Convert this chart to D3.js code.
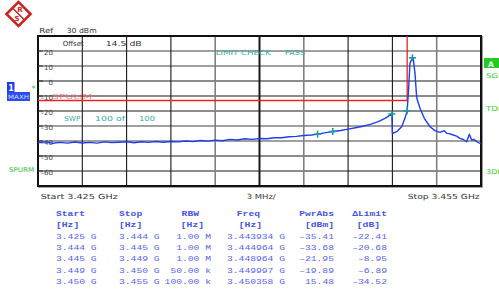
<!DOCTYPE html>
<html>
<head>
<meta charset="utf-8">
<script src="https://cdn.jsdelivr.net/npm/d3@7"></script>
<style>
  body { margin: 0; background: #fff; }
  svg { display: block; }
  .lbl { font-family: "DejaVu Sans", sans-serif; }
  .tbl { font-family: "Liberation Mono", "DejaVu Sans Mono", monospace; }
</style>
</head>
<body>
<div class="sa_chart"></div>
<script>
// ---- data ----
const refLevel = 30
const refOffset = 14.5
const startGHz = 3.425
const stopGHz = 3.455
const spanPerDiv = "3 MHz/"
const sweepCount = 100
const yTicks = [20, 10, 0, -10, -20, -30, -40, -50, -60]

// trace: [frequency GHz, level dBm]
const trace = [
  [3.4250, -41.2], [3.4255, -40.6], [3.4260, -41.5], [3.4265, -40.9], [3.4270, -41.4],
  [3.4275, -40.7], [3.4280, -41.3], [3.4285, -40.9], [3.4290, -41.4], [3.4295, -40.6],
  [3.4300, -41.1], [3.4305, -40.8], [3.4310, -40.5], [3.4315, -41.2], [3.4320, -40.5],
  [3.4325, -40.9], [3.4330, -40.3], [3.4335, -40.8], [3.4340, -40.3], [3.4345, -40.6],
  [3.4350, -40.0], [3.4355, -40.4], [3.4360, -39.7], [3.4365, -40.1], [3.4370, -39.4],
  [3.4375, -39.8], [3.4380, -38.9], [3.4385, -39.3], [3.4390, -38.5], [3.4395, -38.9],
  [3.4400, -38.3], [3.4405, -38.5], [3.4410, -37.8], [3.4415, -37.8], [3.4420, -37.2],
  [3.4425, -36.9], [3.4430, -36.3], [3.4435, -36.0], [3.443934, -35.41], [3.4445, -34.4],
  [3.444964, -33.68], [3.4455, -33.0], [3.4460, -32.1], [3.4465, -31.2], [3.4470, -30.2],
  [3.4475, -28.9], [3.4480, -27.2], [3.4485, -24.9], [3.448964, -21.95], [3.44900, -35.0],
  [3.44929, -33.8], [3.44963, -30.5], [3.44985, -24.9], [3.449997, -19.89], [3.45008, -8.2],
  [3.45019, 11.8], [3.450358, 15.48], [3.45041, 15.1], [3.45053, 5.1], [3.45064, -10.5],
  [3.45069, -12.7], [3.45087, -18.2], [3.45116, -24.9], [3.45155, -30.5], [3.45188, -33.1],
  [3.45222, -34.2], [3.45251, -33.1], [3.45268, -34.9], [3.45290, -35.2], [3.45312, -36.0],
  [3.45335, -36.8], [3.45358, -38.2], [3.45380, -39.0], [3.45403, -40.5], [3.45421, -35.5],
  [3.45437, -39.3], [3.45452, -38.9], [3.45471, -40.5], [3.45500, -42.0]
]

// limit line: [frequency GHz, level dBm]
const limitLine = [[3.425, -13], [3.450, -13], [3.450, 50]]

// result table
const tblStart = ["3.425 G", "3.444 G", "3.445 G", "3.449 G", "3.450 G"]
const tblStop = ["3.444 G", "3.445 G", "3.449 G", "3.450 G", "3.455 G"]
const tblRbw = ["1.00 M", "1.00 M", "1.00 M", "50.00 k", "100.00 k"]
const peakFreq = [3.443934, 3.444964, 3.448964, 3.449997, 3.450358]
const peakPwr = [-35.41, -33.68, -21.95, -19.89, 15.48]
const deltaLimit = [-22.41, -20.68, -8.95, -6.89, -34.52]

// ---- drawing ----
const width = 499
const height = 292
const plot = { left: 38, right: 481, top: 36, bottom: 186 }

const svg = d3.select(".sa_chart")
  .append("svg")
  .attr("width", width)
  .attr("height", height)

const x = d3.scaleLinear().domain([startGHz, stopGHz]).range([plot.left, plot.right])
const y = d3.scaleLinear().domain([refLevel - 100, refLevel]).range([plot.bottom, plot.top])

svg.append("clipPath").attr("id", "plotclip")
  .append("rect")
  .attr("x", plot.left).attr("y", plot.top)
  .attr("width", plot.right - plot.left).attr("height", plot.bottom - plot.top)

// grid
const greyH = [20, 10, -30, -40]
svg.append("g")
  .selectAll("line")
  .data(yTicks)
  .join("line")
  .attr("x1", plot.left).attr("x2", plot.right)
  .attr("y1", d => y(d)).attr("y2", d => y(d))
  .attr("stroke", d => greyH.includes(d) ? "#808080" : "#1a1a1a")
  .attr("stroke-width", d => greyH.includes(d) ? 1.6 : 1.1)

const xDivs = d3.range(1, 10).map(i => startGHz + i * (stopGHz - startGHz) / 10)
const greyV = [4, 6, 9]
svg.append("g")
  .selectAll("line")
  .data(xDivs)
  .join("line")
  .attr("x1", d => x(d)).attr("x2", d => x(d))
  .attr("y1", plot.top).attr("y2", plot.bottom)
  .attr("stroke", (d, i) => greyV.includes(i + 1) ? "#808080" : "#1a1a1a")
  .attr("stroke-width", (d, i) => i + 1 == 5 ? 2 : (greyV.includes(i + 1) ? 1.6 : 1.1))

// frame
svg.append("rect")
  .attr("x", plot.left).attr("y", plot.top)
  .attr("width", plot.right - plot.left).attr("height", plot.bottom - plot.top)
  .attr("fill", "none").attr("stroke", "#111").attr("stroke-width", 2)
svg.append("line")
  .attr("x1", plot.right + 1.5).attr("x2", plot.right + 1.5)
  .attr("y1", plot.top).attr("y2", plot.bottom + 1)
  .attr("stroke", "#999").attr("stroke-width", 1)
svg.append("line")
  .attr("x1", plot.left).attr("x2", plot.right + 2)
  .attr("y1", plot.bottom + 1.5).attr("y2", plot.bottom + 1.5)
  .attr("stroke", "#aaa").attr("stroke-width", 1)

// y tick marks + labels
svg.append("g")
  .selectAll("line")
  .data(yTicks)
  .join("line")
  .attr("x1", plot.left).attr("x2", plot.left + 5)
  .attr("y1", d => y(d)).attr("y2", d => y(d))
  .attr("stroke", "#333").attr("stroke-width", 1)

svg.append("g")
  .selectAll("text")
  .data(yTicks)
  .join("text")
  .attr("class", "lbl")
  .attr("x", 53)
  .attr("y", d => y(d) + 4)
  .attr("text-anchor", "end")
  .attr("font-size", 7)
  .attr("fill", "#444")
  .text(d => d < 0 ? "\u2013" + Math.abs(d) : d)

// limit line
const lineGen = d3.line().x(d => x(d[0])).y(d => y(d[1]))
svg.append("path")
  .datum(limitLine)
  .attr("d", lineGen)
  .attr("clip-path", "url(#plotclip)")
  .attr("fill", "none")
  .attr("stroke", "#ee2222")
  .attr("stroke-width", 1.3)

// trace
svg.append("path")
  .datum(trace)
  .attr("d", lineGen)
  .attr("clip-path", "url(#plotclip)")
  .attr("fill", "none")
  .attr("stroke", "#1f3ef2")
  .attr("stroke-width", 1.4)
  .attr("stroke-linejoin", "round")

// peak markers
const mk = svg.append("g")
  .selectAll("g")
  .data(peakFreq.map((f, i) => [f, peakPwr[i]]))
  .join("g")
  .attr("transform", d => `translate(${x(d[0])},${y(d[1])})`)
mk.append("line").attr("x1", -3.5).attr("x2", 3.5).attr("y1", 0).attr("y2", 0)
  .attr("stroke", "#1a9c9c").attr("stroke-width", 1.6)
mk.append("line").attr("x1", 0).attr("x2", 0).attr("y1", -3.5).attr("y2", 3.5)
  .attr("stroke", "#1a9c9c").attr("stroke-width", 1.6)

// header / footer texts
function label(txt, px, py, len, opts = {}) {
  const t = svg.append("text")
    .attr("class", "lbl")
    .attr("x", px).attr("y", py)
    .attr("font-size", opts.size || 7)
    .attr("fill", opts.color || "#333")
    .text(txt)
  if (len) t.attr("textLength", len).attr("lengthAdjust", "spacingAndGlyphs")
  if (opts.weight) t.attr("font-weight", opts.weight)
  if (opts.opacity) t.attr("opacity", opts.opacity)
  return t
}

label("SPULIM", 52, y(-13) - 1.5, 40, { color: "#f06060", opacity: 0.75 })

label("Ref", 39.3, 33, 14)
label(`${refLevel} dBm`, 66.7, 33, 30)
label("Offset", 62.7, 46, 21)
label(`${refOffset} dB`, 105.7, 46, 36)
label("LIMIT CHECK", 215.7, 55, 55, { color: "#3aacac" })
label("PASS", 285, 55, 20, { color: "#3aacac" })
label("SWP", 64.3, 121, 16, { color: "#3aacac" })
label(`${sweepCount} of`, 95, 121, 30, { color: "#3aacac" })
label(`${sweepCount}`, 139, 121, 16, { color: "#3aacac" })
label(`Start ${startGHz} GHz`, 40.7, 199, 77)
label(spanPerDiv, 246.7, 199, 29)
label(`Stop ${stopGHz} GHz`, 407.7, 199, 72)

// R&S logo
const logo = svg.append("g").attr("transform", "translate(18.5,14) rotate(45)")
logo.append("rect").attr("x", -8.5).attr("y", -8.5).attr("width", 17).attr("height", 17)
  .attr("fill", "#fff").attr("stroke", "#cc2020").attr("stroke-width", 2.6)
logo.append("line").attr("x1", -8.5).attr("x2", 8.5).attr("y1", 0).attr("y2", 0)
  .attr("stroke", "#cc2020").attr("stroke-width", 1.4)
logo.append("text").attr("x", -2).attr("y", -2).attr("text-anchor", "middle")
  .attr("font-family", "DejaVu Sans").attr("font-weight", "bold").attr("font-size", 7)
  .attr("fill", "#cc2020").attr("transform", "rotate(-45 -2 -4)").text("R")
logo.append("text").attr("x", 2).attr("y", 7).attr("text-anchor", "middle")
  .attr("font-family", "DejaVu Sans").attr("font-weight", "bold").attr("font-size", 7)
  .attr("fill", "#cc2020").attr("transform", "rotate(-45 2 4)").text("S")

// left side indicators
svg.append("rect").attr("x", 7).attr("y", 82).attr("width", 7.5).attr("height", 10).attr("fill", "#1c3cf0")
label("1", 8.3, 90.5, null, { color: "#fff", size: 8, weight: "bold" })
svg.append("rect").attr("x", 7).attr("y", 92).attr("width", 23).attr("height", 9).attr("fill", "#2a4df0")
label("MAXH", 8, 99, 21, { color: "#d8dcff", size: 6 })
label("*", 31.5, 92, null, { color: "#22cc22", size: 8 })
label("SPURM", 9, 172, 25, { color: "#2db82d", size: 6.5 })

// right side indicators
svg.append("rect").attr("x", 484).attr("y", 58).attr("width", 15).attr("height", 10).attr("fill", "#22cc22")
label("A", 488, 66.5, null, { color: "#fff", size: 7.5, weight: "bold" })
label("SGL", 486, 78, 17, { color: "#33cc33", size: 6.5 })
label("TDF", 486, 111, 17, { color: "#33cc33", size: 6.5 })
label("3DB", 486, 174, 17, { color: "#33cc33", size: 6.5 })

// result table
const rowsY = [238.5, 249.8, 261.2, 272.6, 284]
const charW = 5.8
function cell(txt, px, py, anchor, bold) {
  svg.append("text")
    .attr("class", "tbl")
    .attr("x", px).attr("y", py)
    .attr("font-size", 7.5)
    .attr("text-anchor", anchor)
    .attr("font-weight", bold ? "bold" : "normal")
    .attr("fill", bold ? "#4455e6" : "#5a66ee")
    .attr("textLength", txt.length * charW)
    .attr("lengthAdjust", "spacingAndGlyphs")
    .text(txt)
}

const hdrY = 216, unitY = 227
cell("Start", 56, hdrY, "start", true)
cell("[Hz]", 56, unitY, "start", true)
cell("Stop", 119, hdrY, "start", true)
cell("[Hz]", 119, unitY, "start", true)
cell("RBW", 199, hdrY, "end", true)
cell("[Hz]", 204, unitY, "end", true)
cell("Freq", 260, hdrY, "end", true)
cell("[Hz]", 262, unitY, "end", true)
cell("PwrAbs", 334, hdrY, "end", true)
cell("[dBm]", 334, unitY, "end", true)
cell("\u0394Limit", 387, hdrY, "end", true)
cell("[dB]", 380, unitY, "end", true)

rowsY.forEach((ry, i) => {
  cell(tblStart[i], 56, ry, "start")
  cell(tblStop[i], 119, ry, "start")
  cell(tblRbw[i], 211, ry, "end")
  cell(peakFreq[i].toFixed(6) + " G", 227, ry, "start")
  cell(peakPwr[i].toFixed(2).replace("-", "\u2013"), 334, ry, "end")
  cell(deltaLimit[i].toFixed(2).replace("-", "\u2013"), 387, ry, "end")
})
</script>
</body>
</html>
